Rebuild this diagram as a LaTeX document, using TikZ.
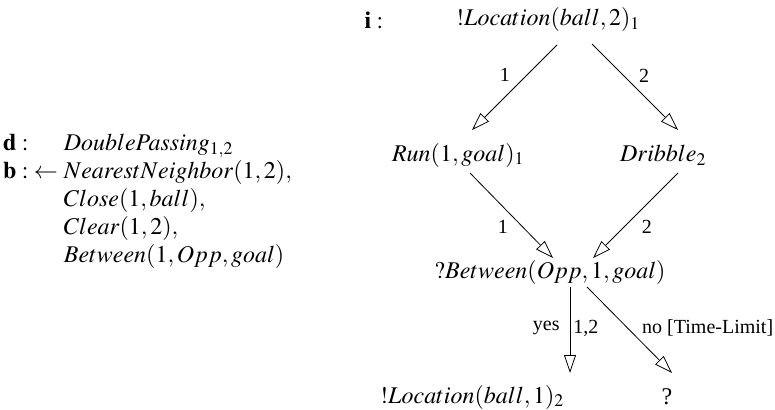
\documentclass[tikz,border=0pt]{standalone}
\usepackage{mathptmx}
\usepackage{fontspec}
\setmainfont{Liberation Serif}
\usepackage{tikz}
\usetikzlibrary{arrows.meta, positioning, calc}

\begin{document}
\begin{tikzpicture}[
		x=1pt, y=-1pt,
		font=\fontsize{24}{28}\selectfont,
		arr/.style={-{Triangle[open, length=18pt, width=12pt]}, line width=0.8pt},
		lbl/.style={font=\fontsize{20}{24}\selectfont, inner sep=2pt}
		]
		\useasboundingbox (0,0) rectangle (775,409);
		
		% Rule
		\node[anchor=west, inner sep=0pt] (rule) at (3,201) {%
			\begin{tabular}{@{}l@{\ }l@{}}
				$\mathbf{d}:$ & $DoublePassing_{1,2}$\\
				$\mathbf{b}:\;\leftarrow$ & $NearestNeighbor(1,2),$\\
				& $Close(1,ball),$\\
				& $Clear(1,2),$\\
				& $Between(1,Opp,goal)$
			\end{tabular}};
		
		% Tree
		\node (i) at (374,20) {$\mathbf{i}:$};
		\node (top) at (548,20) {$!Location(ball,2)_1$};
		\node (run) at (458,155) {$Run(1,goal)_1$};
		\node (dribble) at (663,155) {$Dribble_2$};
		\node (between) at (550,272) {$?Between(Opp,1,goal)$};
		\node (loc) at (472,397) {$!Location(ball,1)_2$};
		\node (unknown) at (667,397) {?};
		
		% Edges
		\draw[arr] ([shift={(9,25)}]top.center) -- ([shift={(14,-25)}]run.center)
		node[lbl, pos=0.35, left=15pt] {1};
		\draw[arr] ([shift={(44,24)}]top.center) -- ([shift={(15,-25)}]dribble.center)
		node[lbl, pos=0.37, right=13pt] {2};
		\draw[arr] ([shift={(12,18)}]run.center) -- ([shift={(3,-14)}]between.center)
		node[lbl, pos=0.63, left=12pt] {1};
		\draw[arr] ([shift={(15,18)}]dribble.center) -- ([shift={(43,-14)}]between.center)
		node[lbl, pos=0.63, right=15pt] {2};
		\draw[arr] ([shift={(20,15)}]between.center) -- ([shift={(98,-24)}]loc.center)
		node[lbl, pos=0.48, left=8pt] {yes}
		node[lbl, pos=0.48, right=1pt] {1,2};
		\draw[arr] ([shift={(37,15)}]between.center) -- ([shift={(5,-24)}]unknown.center)
		node[lbl, pos=0.48, right=12pt] {no [Time-Limit]};
		
	\end{tikzpicture}
\end{document}
